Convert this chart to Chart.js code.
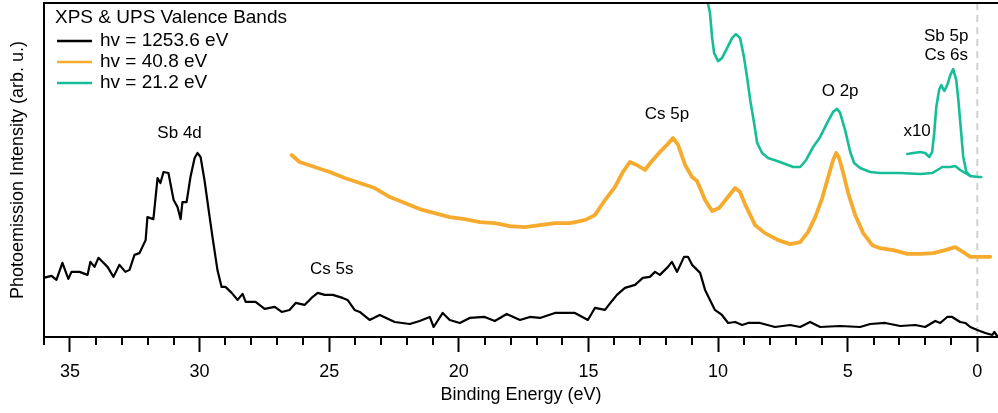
<!DOCTYPE html>
<html>
<head>
<meta charset="utf-8">
<title>XPS & UPS Valence Bands</title>
<script src="https://cdn.jsdelivr.net/npm/chart.js@4"></script>
<style>
  html, body { margin: 0; padding: 0; background: #fff; }
  #wrap { width: 998px; height: 413px; }
</style>
</head>
<body>
<div id="wrap"><canvas id="chart"></canvas></div>
<script>
// Values: binding energy (eV) / intensity (arb. u., 0-100)

// hv = 1253.6 eV (XPS)
const xpsEnergy = [36.02, 35.71, 35.52, 35.29, 35.06, 34.94, 34.63, 34.32, 34.21, 34.05, 33.90, 33.55, 33.32, 33.09, 32.86, 32.70,
  32.51, 32.32, 32.08, 32.01, 31.78, 31.62, 31.51, 31.39, 31.20, 31.00, 30.85, 30.73, 30.66, 30.50, 30.35, 30.19, 30.08, 29.96,
  29.81, 29.61, 29.50, 29.31, 29.15, 29.00, 28.76, 28.53, 28.34, 28.22, 27.84, 27.49, 27.10, 26.83, 26.53, 26.29, 25.95, 25.68,
  25.44, 25.17, 24.86, 24.48, 24.29, 24.02, 23.82, 23.44, 23.05, 22.47, 21.89, 21.51, 21.12, 20.97, 20.62, 20.35, 19.96, 19.58,
  19.00, 18.61, 18.15, 17.64, 17.26, 16.87, 16.29, 15.91, 15.52, 15.02, 14.75, 14.36, 14.09, 13.90, 13.59, 13.20, 12.90, 12.63,
  12.43, 12.24, 11.93, 11.78, 11.58, 11.31, 11.16, 11.00, 10.69, 10.50, 10.31, 10.12, 9.85, 9.61, 9.34, 9.07, 8.84, 8.38, 7.80,
  7.22, 6.83, 6.45, 6.06, 5.29, 4.52, 4.13, 3.55, 2.97, 2.39, 2.01, 1.62, 1.43, 1.16, 0.97, 0.66, 0.46, 0.27, 0.00, -0.31, -0.58,
  -0.66, -0.77];
const xpsIntensity = [17.7, 18.3, 17.1, 22.2, 17.4, 19.5, 19.5, 18.6, 22.5, 21.0, 23.7, 21.0, 18.0, 21.6, 19.5, 20.1,
  24.6, 25.1, 29.0, 35.9, 35.3, 47.6, 46.1, 49.4, 49.1, 41.0, 38.9, 35.3, 40.4, 40.4, 47.9, 53.6, 55.1, 53.9,
  47.0, 35.9, 29.9, 20.1, 15.0, 15.0, 13.2, 11.1, 12.9, 10.5, 10.5, 8.4, 9.0, 7.5, 8.1, 10.2, 9.6, 11.7,
  13.2, 12.6, 12.6, 11.7, 11.1, 8.1, 7.5, 5.1, 6.6, 4.5, 3.9, 4.8, 6.0, 3.0, 7.2, 5.1, 4.2, 5.7,
  6.0, 4.8, 6.9, 5.1, 6.0, 5.7, 7.2, 7.2, 7.2, 5.1, 8.7, 8.1, 10.8, 12.6, 14.7, 15.6, 17.7, 18.0,
  19.5, 18.6, 21.0, 22.5, 19.5, 24.0, 24.0, 21.6, 19.2, 14.1, 11.1, 8.1, 6.6, 4.2, 4.5, 3.6, 4.2, 4.2, 3.0,
  3.6, 3.0, 4.5, 3.0, 3.3, 3.0, 3.9, 4.2, 3.3, 3.6, 3.0, 4.8, 4.2, 6.0, 6.0, 4.5, 4.2, 3.0, 2.1, 1.2, 0.6,
  1.5, 0.3];

// hv = 40.8 eV (He II)
const he2Energy = [26.45, 26.14, 25.56, 24.98, 24.40, 23.82, 23.24, 22.66, 22.08, 21.51, 20.93, 20.35, 19.77, 19.19, 18.61,
  18.03, 17.45, 16.87, 16.29, 15.71, 15.14, 14.75, 14.36, 13.98, 13.67, 13.40, 13.13, 12.82, 12.55, 12.24, 11.97, 11.74,
  11.54, 11.27, 11.00, 10.81, 10.50, 10.23, 9.96, 9.65, 9.34, 9.15, 8.96, 8.57, 8.19, 7.68, 7.22, 6.83, 6.53, 6.25, 5.98,
  5.75, 5.56, 5.44, 5.33, 5.17, 4.98, 4.71, 4.40, 4.05, 3.75, 3.24, 2.70, 2.20, 1.70, 1.24, 0.85, 0.54, 0.27, -0.12, -0.50];
const he2Intensity = [54.5, 52.4, 50.9, 49.4, 47.6, 46.1, 44.6, 41.9, 40.1, 38.3, 37.1, 35.9, 35.3, 34.4, 34.1,
  33.2, 32.9, 33.5, 34.1, 34.1, 35.0, 36.5, 41.0, 44.9, 49.4, 52.4, 51.5, 50.0, 52.7, 55.4, 57.5, 59.6,
  57.5, 51.5, 47.9, 46.7, 41.0, 37.7, 38.6, 41.6, 44.6, 43.4, 39.8, 33.5, 31.1, 29.0, 27.8, 28.4, 31.4, 35.9, 41.6,
  47.9, 53.0, 55.1, 53.6, 49.1, 43.1, 36.5, 31.1, 27.5, 26.6, 26.0, 24.9, 24.9, 25.1, 26.0, 26.9, 25.4, 24.0, 24.0, 24.0];

// hv = 21.2 eV (He I)
const he1Energy = [10.50, 10.39, 10.31, 10.23, 10.15, 10.00, 9.85, 9.65, 9.46, 9.31, 9.15, 9.00, 8.88, 8.76, 8.61, 8.49,
  8.30, 8.07, 7.61, 7.10, 6.83, 6.60, 6.33, 6.06, 5.79, 5.56, 5.41, 5.29, 5.10, 4.90, 4.75, 4.52, 4.13, 3.75, 2.97, 2.20,
  1.74, 1.54, 1.35, 1.04, 0.85, 0.66, 0.46, 0.27, -0.04, -0.15];
const he1Intensity = [110.0, 100.0, 97.0, 89.8, 85.0, 82.6, 83.5, 86.5, 89.5, 90.7, 89.5, 83.8, 77.8, 71.0, 64.1, 58.1,
  55.1, 53.6, 52.4, 50.9, 50.9, 53.0, 56.9, 59.9, 64.1, 67.4, 68.3, 67.1, 62.0, 55.4, 52.1, 50.6, 49.4, 49.1, 49.1, 48.8,
  49.1, 50.0, 50.9, 50.9, 51.2, 50.0, 49.1, 48.2, 47.9, 47.9];

// hv = 21.2 eV near the Fermi edge, magnified x10
const he1x10Energy = [2.70, 2.47, 2.20, 2.01, 1.85, 1.74, 1.66, 1.58, 1.47, 1.39, 1.27, 1.16, 1.04, 0.93, 0.81, 0.73,
  0.62, 0.54, 0.42, 0.27];
const he1x10Intensity = [54.8, 55.1, 55.4, 55.1, 53.9, 55.4, 61.1, 68.9, 74.0, 75.4, 73.7, 75.4, 78.4, 80.2, 76.9, 71.0,
  61.1, 53.9, 49.4, 48.2];

const majorTicks = [35, 30, 25, 20, 15, 10, 5, 0];
const minorTicks = [36, 34, 33, 32, 31, 29, 28, 27, 26, 24, 23, 22, 21, 19, 18, 17, 16, 14, 13, 12, 11, 9, 8, 7, 6, 4, 3, 2, 1];

const peakLabels = ['Sb 4d', 'Cs 5s', 'Cs 5p', 'O 2p', 'x10', 'Sb 5p', 'Cs 6s'];
const peakLabelEnergy = [30.77, 24.90, 11.97, 5.29, 2.32, 1.20, 1.20];
const peakLabelIntensity = [61.1, 20.4, 66.8, 73.7, 61.7, 90.1, 84.4];

const BLACK = '#000000';
const ORANGE = '#f6aa2e';
const TEAL = '#16bd96';
const FONT = '"Liberation Sans", Arial, sans-serif';

function toPoints(xs, ys) {
    return xs.map(function(x, i) { return { x: x, y: ys[i] }; });
}

// dashed marker at the Fermi level, drawn under the curves
const fermiLine = {
    id: 'fermiLine',
    beforeDatasetsDraw(chart) {
        const ctx = chart.ctx;
        const area = chart.chartArea;
        const px = chart.scales.x.getPixelForValue(0);
        ctx.save();
        ctx.strokeStyle = '#d2d2d2';
        ctx.lineWidth = 2;
        ctx.setLineDash([7, 5]);
        ctx.beginPath();
        ctx.moveTo(px, area.top);
        ctx.lineTo(px, area.bottom);
        ctx.stroke();
        ctx.restore();
    }
};

// top frame line, minor ticks, peak labels and the in-plot legend
const decorations = {
    id: 'decorations',
    afterDraw(chart) {
        const ctx = chart.ctx;
        const area = chart.chartArea;
        const xs = chart.scales.x;
        const ys = chart.scales.y;
        ctx.save();

        ctx.strokeStyle = '#000';
        ctx.lineWidth = 2;
        ctx.beginPath();
        ctx.moveTo(area.left - 1, area.top);
        ctx.lineTo(area.right, area.top);
        ctx.stroke();

        minorTicks.forEach(function(v) {
            const px = Math.round(xs.getPixelForValue(v));
            ctx.beginPath();
            ctx.moveTo(px, area.bottom);
            ctx.lineTo(px, area.bottom + 8);
            ctx.stroke();
        });

        ctx.fillStyle = '#000';
        ctx.font = '17px ' + FONT;
        ctx.textAlign = 'center';
        ctx.textBaseline = 'middle';
        peakLabels.forEach(function(t, i) {
            ctx.fillText(t, xs.getPixelForValue(peakLabelEnergy[i]), ys.getPixelForValue(peakLabelIntensity[i]));
        });

        // legend
        ctx.textAlign = 'left';
        ctx.font = '19px ' + FONT;
        ctx.fillText('XPS & UPS Valence Bands', area.left + 11, area.top + 15);
        const entries = chart.data.datasets.filter(function(d) { return d.inLegend; });
        entries.forEach(function(d, i) {
            const y = area.top + 38 + i * 21;
            ctx.strokeStyle = d.borderColor;
            ctx.lineWidth = 2.5;
            ctx.beginPath();
            ctx.moveTo(area.left + 13, y);
            ctx.lineTo(area.left + 48, y);
            ctx.stroke();
            ctx.fillText(d.label, area.left + 56, y);
        });
        ctx.restore();
    }
};

const ctx = document.getElementById('chart').getContext('2d');
new Chart(ctx, {
    type: 'line',
    data: {
        datasets: [
            { label: 'hv = 1253.6 eV', data: toPoints(xpsEnergy, xpsIntensity), borderColor: BLACK, borderWidth: 2.2, inLegend: true },
            { label: 'hv = 40.8 eV', data: toPoints(he2Energy, he2Intensity), borderColor: ORANGE, borderWidth: 3.8, inLegend: true },
            { label: 'hv = 21.2 eV', data: toPoints(he1Energy, he1Intensity), borderColor: TEAL, borderWidth: 2.6, inLegend: true },
            { label: 'hv = 21.2 eV x10', data: toPoints(he1x10Energy, he1x10Intensity), borderColor: TEAL, borderWidth: 2.6, inLegend: false }
        ]
    },
    options: {
        responsive: true,
        maintainAspectRatio: false,
        animation: false,
        devicePixelRatio: 1,
        layout: { padding: { top: 3, right: 0, left: 0, bottom: 0 } },
        elements: {
            point: { radius: 0 },
            line: { tension: 0, borderJoinStyle: 'round', borderCapStyle: 'round' }
        },
        plugins: {
            legend: { display: false },
            tooltip: { enabled: false }
        },
        scales: {
            x: {
                type: 'linear',
                reverse: true,
                min: -0.8,
                max: 36,
                afterBuildTicks: function(s) { s.ticks = majorTicks.map(function(v) { return { value: v }; }); },
                afterFit: function(s) { s.height = 76; },
                grid: { display: true, drawOnChartArea: false, drawTicks: true, tickLength: 15, tickWidth: 2, tickColor: '#000' },
                border: { display: true, color: '#000', width: 2 },
                ticks: { color: '#000', font: { family: FONT, size: 18 }, padding: 9, maxRotation: 0, autoSkip: false },
                title: { display: true, text: 'Binding Energy (eV)', color: '#000', font: { family: FONT, size: 18 }, padding: { top: 4, bottom: 7 } }
            },
            y: {
                type: 'linear',
                min: 0,
                max: 100,
                afterFit: function(s) { s.width = 44; },
                ticks: { display: false },
                grid: { display: false },
                border: { display: true, color: '#000', width: 2 },
                title: { display: true, text: 'Photoemission Intensity (arb. u.)', color: '#000', font: { family: FONT, size: 18 }, padding: { top: 7, bottom: 0 } }
            }
        }
    },
    plugins: [fermiLine, decorations]
});
</script>
</body>
</html>
